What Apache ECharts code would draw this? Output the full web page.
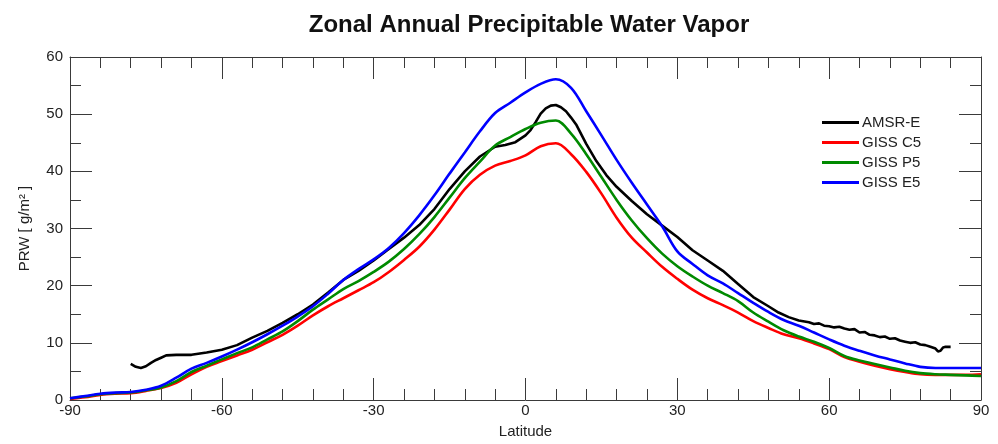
<!DOCTYPE html>
<html>
<head>
<meta charset="utf-8">
<script src="https://cdn.jsdelivr.net/npm/echarts@6/dist/echarts.min.js"></script>
<style>
  html, body { margin: 0; padding: 0; background: #fff; }
  #chart { width: 998px; height: 444px; }
</style>
</head>
<body>
<div id="chart"></div>
<script>
// Latitude grid shared by the three GISS model runs (degrees)
const latitude = [-90,-87,-84,-81,-78,-75,-72,-69,-66,-63,-60,-57,-54,-51,-48,-45,-42,-39,-36,-33,-30,-27,-24,-21,-18,-15,-12,-9,-6,-3,0,3,6,9,12,15,18,21,24,27,30,33,36,39,42,45,48,51,54,57,60,63,66,69,72,75,78,81,84,87,90];

// Zonal mean precipitable water, g/m^2
const gissC5 = [0.2,0.5,0.9,1.1,1.2,1.6,2.1,3.0,4.5,5.8,6.8,7.8,8.8,10.1,11.4,13.0,14.8,16.4,17.8,19.2,20.6,22.4,24.5,26.8,29.8,33.3,36.9,39.4,41.0,41.8,42.8,44.4,44.9,43.0,39.9,36.1,31.9,28.4,25.8,23.3,21.2,19.3,17.8,16.6,15.3,13.8,12.6,11.5,10.8,9.9,8.9,7.5,6.7,6.0,5.4,4.9,4.5,4.4,4.4,4.4,4.5];
const gissP5 = [0.3,0.6,1.0,1.2,1.3,1.7,2.2,3.3,4.9,6.0,7.1,8.2,9.2,10.6,12.0,13.8,15.8,17.6,19.4,20.8,22.4,24.2,26.4,29.0,32.0,35.4,38.8,41.7,44.5,46.0,47.4,48.5,48.9,46.6,43.0,39.0,35.0,31.4,28.3,25.6,23.4,21.6,20.0,18.7,17.3,15.3,13.7,12.2,11.1,10.2,9.1,7.7,6.9,6.3,5.7,5.1,4.7,4.5,4.4,4.3,4.2];
const gissE5 = [0.3,0.7,1.1,1.3,1.4,1.8,2.5,3.9,5.5,6.5,7.6,8.8,10.1,11.5,13.0,14.6,16.4,18.6,21.0,22.9,24.6,26.6,29.2,32.3,35.8,39.6,43.3,47.0,50.2,52.0,53.8,55.3,56.1,54.6,50.5,46.3,42.0,38.0,34.2,30.4,26.0,23.8,21.8,20.4,18.7,17.0,15.4,14.0,13.0,11.8,10.6,9.5,8.6,7.8,7.1,6.4,5.8,5.6,5.6,5.6,5.6];

// AMSR-E retrieval, only available between about 78S and 84N
const amsrLat = [-78,-77,-76,-75,-74,-73,-72,-71,-69,-66,-63,-60,-57,-54,-51,-48,-45,-42,-39,-36,-33,-30,-27,-24,-21,-18,-15,-12,-9,-6,-4,-2,0,1,2,3,4,5,6,7,8,9,10,12,14,16,18,21,24,27,30,33,36,39,42,45,48,50,52,54,56,57,58,59,60,61,62,63,64,65,66,67,68,69,70,71,72,73,74,75,76,77,78,79,80,81,81.5,82,82.5,83,84];
const amsrE = [6.3,5.8,5.6,5.9,6.5,7.0,7.4,7.8,7.9,7.9,8.3,8.8,9.6,10.9,12.1,13.5,15.0,16.7,18.8,21.0,22.6,24.4,26.4,28.4,30.6,33.4,36.9,40.0,42.6,44.3,44.6,45.1,46.3,47.2,48.6,50.1,51.0,51.5,51.6,51.2,50.5,49.4,48.2,44.8,41.8,39.3,37.3,34.8,32.5,30.5,28.5,26.2,24.4,22.6,20.3,18.0,16.4,15.3,14.5,13.9,13.6,13.3,13.4,13.0,12.9,12.7,12.8,12.5,12.3,12.4,11.8,11.9,11.4,11.3,11.0,11.1,10.7,10.8,10.4,10.2,10.0,10.1,9.7,9.6,9.3,9.0,8.5,8.6,9.2,9.3,9.3];

const seriesNames = ['AMSR-E', 'GISS C5', 'GISS P5', 'GISS E5'];
const seriesColors = ['#000000', '#ff0000', '#008a00', '#0000ff'];

const xTicks = [-90, -60, -30, 0, 30, 60, 90];
const yTicks = [0, 10, 20, 30, 40, 50, 60];

const font = '"Liberation Sans", Arial, Helvetica, sans-serif';
const frameColor = '#3a3a3a';

function pairs(xs, ys) {
  return xs.map((x, i) => [x, ys[i]]);
}

const chart = echarts.init(document.getElementById('chart'), null, { renderer: 'canvas' });

function axisLine() {
  return { show: true, onZero: false, lineStyle: { color: frameColor, width: 1 } };
}

function xAxisBase(position, showLabels) {
  return {
    type: 'value',
    position: position,
    min: xTicks[0],
    max: xTicks[xTicks.length - 1],
    interval: 30,
    axisLine: axisLine(),
    axisTick: { show: true, inside: true, length: 22, lineStyle: { color: frameColor } },
    minorTick: { show: true, splitNumber: 5, length: 11, lineStyle: { color: frameColor } },
    splitLine: { show: false },
    axisLabel: { show: showLabels, fontFamily: font, fontSize: 15, color: '#222', margin: 3 }
  };
}

function yAxisBase(position, showLabels) {
  return {
    type: 'value',
    position: position,
    min: yTicks[0],
    max: yTicks[yTicks.length - 1],
    interval: 10,
    axisLine: axisLine(),
    axisTick: { show: true, inside: true, length: 22, lineStyle: { color: frameColor } },
    minorTick: { show: true, splitNumber: 2, length: 11, lineStyle: { color: frameColor } },
    splitLine: { show: false },
    axisLabel: { show: showLabels, fontFamily: font, fontSize: 15, color: '#222', margin: 7 }
  };
}

const bottomX = Object.assign(xAxisBase('bottom', true), {
  name: 'Latitude',
  nameLocation: 'middle',
  nameGap: 24,
  nameTextStyle: { fontFamily: font, fontSize: 15, color: '#222' }
});
const leftY = Object.assign(yAxisBase('left', true), {
  name: 'PRW [ g/m\u00B2 ]',
  nameLocation: 'middle',
  nameGap: 38,
  nameRotate: 90,
  nameTextStyle: { fontFamily: font, fontSize: 15, color: '#222' }
});

const lineData = [
  pairs(amsrLat, amsrE),
  pairs(latitude, gissC5),
  pairs(latitude, gissP5),
  pairs(latitude, gissE5)
];

chart.setOption({
  backgroundColor: '#ffffff',
  animation: false,
  title: {
    text: 'Zonal Annual Precipitable Water Vapor',
    left: 524,
    textAlign: 'center',
    top: 8,
    textStyle: { fontFamily: font, fontSize: 24, fontWeight: 'bold', color: '#111' }
  },
  grid: { left: 70, right: 17, top: 57, bottom: 44, containLabel: false },
  legend: {
    orient: 'vertical',
    left: 817,
    top: 110,
    itemWidth: 37,
    itemHeight: 3,
    itemGap: 5,
    icon: 'rect',
    data: seriesNames,
    textStyle: { fontFamily: font, fontSize: 15, color: '#222', padding: [0, 0, 0, -2], lineHeight: 15 }
  },
  xAxis: [bottomX, xAxisBase('top', false)],
  yAxis: [leftY, yAxisBase('right', false)],
  series: seriesNames.map((name, i) => ({
    name: name,
    type: 'line',
    xAxisIndex: 0,
    yAxisIndex: 0,
    data: lineData[i],
    showSymbol: false,
    smooth: i === 0 ? false : 0.35,
    color: seriesColors[i],
    lineStyle: { color: seriesColors[i], width: 2.6 },
    z: 2 + i
  }))
});
</script>
</body>
</html>
